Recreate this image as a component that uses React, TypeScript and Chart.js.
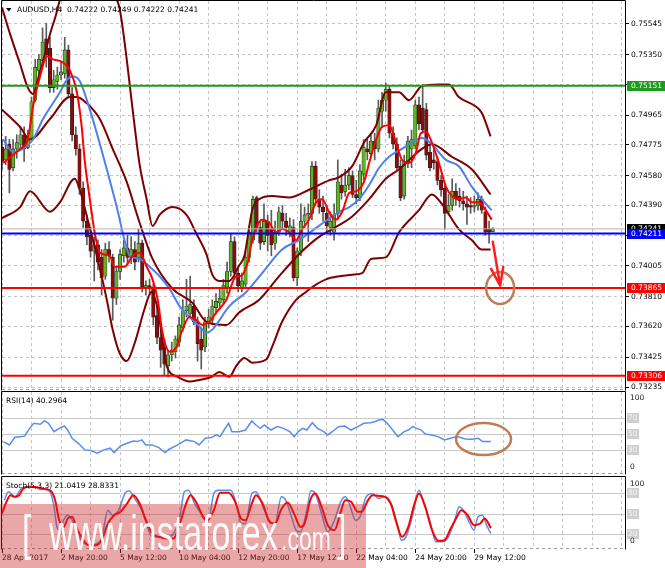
import React, { useEffect, useRef } from 'react';
import { Chart, registerables } from 'chart.js';

Chart.register(...registerables);

// ---------------- data ----------------
const headerText = 'AUDUSD,H4  0.74222 0.74249 0.74222 0.74241';
const rsiTitle = 'RSI(14) 40.2964';
const stochTitle = 'Stoch(5,3,3) 21.0419 28.8331';

const dateLabels = ['28 Apr 2017', '2 May 20:00', '5 May 12:00', '10 May 04:00', '12 May 20:00', '17 May 12:00', '22 May 04:00', '24 May 20:00', '29 May 12:00'];
const barsPerLabel = 16;

const priceTicks = [0.75545, 0.7535, 0.7516, 0.74965, 0.74775, 0.7458, 0.7439, 0.742, 0.74005, 0.7381, 0.7362, 0.73425, 0.73235];
const coveredPriceTicks = [0.7516, 0.742];

const openP = [
  0.7476, 0.7468, 0.7478, 0.7463, 0.7475, 0.7478, 0.7484, 0.7476, 0.7482, 0.7506,
  0.7525, 0.7531, 0.7545, 0.7539, 0.7514, 0.7518, 0.7522, 0.7523, 0.7538, 0.7510,
  0.7484, 0.7475, 0.7450, 0.7429, 0.7420, 0.7410, 0.7414, 0.7406, 0.7394, 0.7411,
  0.7406, 0.7380, 0.7397, 0.7407, 0.7412, 0.7406, 0.7411, 0.7406, 0.7415, 0.7387,
  0.7388, 0.7386, 0.7369, 0.7355, 0.7349, 0.7337, 0.7344, 0.7346, 0.7352, 0.7361,
  0.7372, 0.7370, 0.7375, 0.7365, 0.7354, 0.7349, 0.7365, 0.7366, 0.7374, 0.7377,
  0.7379, 0.7386, 0.7397, 0.7416, 0.7396, 0.7387, 0.7389, 0.7406, 0.7417, 0.7444,
  0.7425, 0.7416, 0.7429, 0.7424, 0.7415, 0.7422, 0.7434, 0.7429, 0.7422, 0.7425,
  0.7393, 0.7410, 0.7429, 0.7433, 0.7434, 0.7464, 0.7443, 0.7438, 0.7434, 0.7425,
  0.7422, 0.7434, 0.7452, 0.7448, 0.7452, 0.7458, 0.7446, 0.7444, 0.7459, 0.7475,
  0.7472, 0.7480, 0.7475, 0.7499, 0.7506, 0.7513, 0.7485, 0.7478, 0.7464, 0.7445,
  0.7466, 0.7475, 0.7477, 0.7503, 0.7501, 0.7500, 0.7473, 0.7468, 0.7467, 0.7455,
  0.7450, 0.7435, 0.7439, 0.7448, 0.7445, 0.7442, 0.7440, 0.7439, 0.7438, 0.7439,
  0.7443, 0.7435, 0.7424, 0.74222,
];
const highP = [
  0.7481, 0.7483, 0.7481, 0.7481, 0.7484, 0.7489, 0.7489, 0.7487, 0.7508, 0.7532,
  0.7535, 0.7552, 0.7555, 0.7546, 0.7525, 0.7527, 0.7531, 0.7546, 0.7541, 0.7514,
  0.7489, 0.7478, 0.7454, 0.7433, 0.7425, 0.7419, 0.7417, 0.7411, 0.7415, 0.7416,
  0.7408, 0.7400, 0.7411, 0.7417, 0.7420, 0.7419, 0.7416, 0.7424, 0.7417, 0.7391,
  0.7392, 0.7389, 0.7376, 0.7360, 0.7354, 0.7347, 0.7352, 0.7356, 0.7368, 0.7379,
  0.7392, 0.7394, 0.7379, 0.7368, 0.7361, 0.7368, 0.7373, 0.7379, 0.7383, 0.7386,
  0.7392, 0.7403, 0.7421, 0.7419, 0.7400, 0.7396, 0.7410, 0.7426, 0.7445, 0.7445,
  0.7429, 0.7440, 0.7433, 0.7436, 0.7429, 0.7438, 0.7439, 0.7434, 0.7431, 0.7430,
  0.7412, 0.7440, 0.7438, 0.7440, 0.7467, 0.7467, 0.7449, 0.7445, 0.7439, 0.7435,
  0.7440, 0.7468, 0.7459, 0.7462, 0.7463, 0.7461, 0.7455, 0.7465, 0.7481, 0.7481,
  0.7484, 0.7485, 0.7506, 0.7511, 0.7517, 0.7515, 0.7489, 0.7482, 0.7468, 0.7471,
  0.7483, 0.7487, 0.7506, 0.7508, 0.7516, 0.7504, 0.7478, 0.7475, 0.7470, 0.7458,
  0.7453, 0.7446, 0.7456, 0.7453, 0.7450, 0.7448, 0.7445, 0.7444, 0.7445, 0.7447,
  0.7445, 0.7438, 0.7429, 0.74249,
];
const lowP = [
  0.7462, 0.7465, 0.7447, 0.7461, 0.7469, 0.7475, 0.7467, 0.7475, 0.7481, 0.7505,
  0.7520, 0.7528, 0.7527, 0.7511, 0.7511, 0.7513, 0.7519, 0.7520, 0.7508, 0.7480,
  0.7471, 0.7446, 0.7425, 0.7414, 0.7406, 0.7391, 0.7398, 0.7382, 0.7392, 0.7403,
  0.7366, 0.7376, 0.7392, 0.7403, 0.7401, 0.7402, 0.7398, 0.7403, 0.7384, 0.7382,
  0.7382, 0.7363, 0.7351, 0.7336, 0.7331, 0.7330, 0.7340, 0.7342, 0.7349, 0.7359,
  0.7368, 0.7368, 0.7363, 0.7340, 0.7335, 0.7346, 0.7361, 0.7363, 0.7370, 0.7373,
  0.7376, 0.7383, 0.7394, 0.7392, 0.7384, 0.7384, 0.7387, 0.7403, 0.7415, 0.7422,
  0.7411, 0.7414, 0.7410, 0.7407, 0.7411, 0.7420, 0.7424, 0.7420, 0.7419, 0.7391,
  0.7388, 0.7407, 0.7425, 0.7416, 0.7430, 0.7440, 0.7434, 0.7429, 0.7422, 0.7420,
  0.7417, 0.7431, 0.7443, 0.7445, 0.7449, 0.7444, 0.7440, 0.7442, 0.7455, 0.7468,
  0.7470, 0.7468, 0.7473, 0.7489, 0.7499, 0.7482, 0.7475, 0.7462, 0.7442, 0.7443,
  0.7463, 0.7463, 0.7475, 0.7487, 0.7485, 0.7468, 0.7461, 0.7462, 0.7452, 0.7445,
  0.7424, 0.7433, 0.7436, 0.7439, 0.7438, 0.7436, 0.7427, 0.7434, 0.7435, 0.7436,
  0.7434, 0.7420, 0.7415, 0.74222,
];
const closeP = [
  0.7467, 0.7475, 0.7462, 0.7475, 0.7479, 0.7484, 0.7475, 0.7482, 0.7505, 0.7527,
  0.7532, 0.7543, 0.7535, 0.7514, 0.7519, 0.7522, 0.7524, 0.7538, 0.7510, 0.7484,
  0.7475, 0.7450, 0.7429, 0.7419, 0.7410, 0.7414, 0.7403, 0.7393, 0.7411, 0.7407,
  0.7380, 0.7397, 0.7408, 0.7412, 0.7406, 0.7411, 0.7403, 0.7415, 0.7387, 0.7388,
  0.7386, 0.7368, 0.7355, 0.7347, 0.7338, 0.7344, 0.7347, 0.7354, 0.7363, 0.7372,
  0.7375, 0.7376, 0.7365, 0.7351, 0.7347, 0.7365, 0.7368, 0.7375, 0.7378, 0.7380,
  0.7388, 0.7397, 0.7416, 0.7396, 0.7388, 0.7391, 0.7406, 0.7422, 0.7443, 0.7425,
  0.7415, 0.7429, 0.7420, 0.7414, 0.7422, 0.7435, 0.7429, 0.7425, 0.7426, 0.7393,
  0.7410, 0.7429, 0.7433, 0.7434, 0.7464, 0.7443, 0.7438, 0.7435, 0.7426, 0.7429,
  0.7433, 0.7454, 0.7447, 0.7452, 0.7458, 0.7446, 0.7444, 0.7461, 0.7476, 0.7473,
  0.7480, 0.7475, 0.7501, 0.7506, 0.7513, 0.7485, 0.7478, 0.7463, 0.7444, 0.7467,
  0.7480, 0.7481, 0.7503, 0.7491, 0.7487, 0.7471, 0.7463, 0.7466, 0.7455, 0.7449,
  0.7434, 0.7439, 0.7448, 0.7444, 0.7442, 0.7440, 0.7438, 0.7438, 0.7439, 0.7443,
  0.7436, 0.7422, 0.7422, 0.74241,
];

const levelPrices = [0.75151, 0.74211, 0.73865, 0.73306];
const levelColors = ['#1e9b1e', '#0000f5', '#ff0000', '#ff0000'];
const currentPrice = 0.74241;

// indicator lines: [bar index, value]
const redMa = [[0.3,0.7466],[4.9,0.7475],[7,0.7481],[8.4,0.7502],[10.3,0.7521],[12.2,0.7534],[13.8,0.7532],[16.5,0.7530],[18.4,0.7525],[20.3,0.7511],[21.6,0.7489],[22.4,0.7468],[23.8,0.7443],[25.1,0.7422],[26.5,0.7409],[29.2,0.7407],[30.5,0.7400],[33.2,0.7400],[35.4,0.7407],[37.3,0.7409],[39.2,0.7400],[40.8,0.7392],[42.2,0.7379],[43.5,0.7358],[45.4,0.7346],[47.3,0.7349],[48.9,0.7360],[50.8,0.7368],[52.7,0.7366],[54.3,0.7363],[56.2,0.7365],[58.1,0.7371],[60.8,0.7379],[63.5,0.7394],[64.5,0.7394],[66.5,0.7402],[67.8,0.7417],[70.5,0.7430],[72.4,0.7428],[74.3,0.7422],[75.9,0.7424],[77.8,0.7422],[79.7,0.7417],[81.4,0.7424],[83.2,0.7430],[85.1,0.7441],[86.8,0.7443],[88.6,0.7435],[90.5,0.7430],[92.2,0.7435],[94.1,0.7447],[95.9,0.7448],[98.1,0.7454],[99.5,0.7466],[101.4,0.7481],[103,0.7489],[104.9,0.7490],[106.8,0.7479],[108.4,0.7468],[110.3,0.7466],[112.2,0.7473],[113.5,0.7485],[114.9,0.7486],[116.5,0.7479],[118.4,0.7466],[120.3,0.7451],[121.9,0.7445],[123.8,0.7443],[125.7,0.7444],[127.3,0.7441],[129.2,0.7441],[131.1,0.7436],[132.7,0.7430]];
const blueMa = [[0.3,0.7481],[3,0.7473],[5.7,0.7475],[8.4,0.7481],[11.1,0.7494],[13.8,0.7504],[15.7,0.7511],[17.6,0.7519],[19.2,0.7521],[21.1,0.7518],[23,0.7506],[25.7,0.7485],[28.4,0.7462],[31.1,0.7438],[33.2,0.7417],[34.6,0.7407],[37.3,0.7405],[40,0.7400],[42.7,0.7394],[45.4,0.7386],[48.1,0.7375],[50.8,0.7368],[53.5,0.7362],[55.4,0.7358],[57,0.7360],[61.6,0.7375],[66.2,0.7384],[70.5,0.7396],[75.9,0.7411],[80.5,0.7417],[85.9,0.7426],[91.4,0.7435],[94.1,0.7438],[96.8,0.7443],[99.5,0.7452],[102.2,0.7463],[104.9,0.7470],[108.4,0.7475],[113.8,0.7482],[116.5,0.7478],[120.3,0.7468],[123.8,0.7464],[127.3,0.7451],[130,0.7443],[132.7,0.7436]];
const upperBand = [[0,0.7565],[2.2,0.7548],[4.9,0.7529],[7,0.7514],[8.4,0.7510],[9.7,0.7519],[11.6,0.7535],[13,0.7548],[14.6,0.7560],[15.7,0.7570],[19.7,0.7595],[26.5,0.7595],[30.5,0.7573],[31.9,0.7564],[33.8,0.7532],[35.4,0.7500],[37.3,0.7465],[39.2,0.7443],[40.8,0.7426],[42.7,0.7433],[46.2,0.7438],[50,0.7433],[52.7,0.7421],[55.4,0.7408],[57,0.7395],[58.9,0.7391],[61.6,0.7391],[64.3,0.7401],[65.7,0.7407],[67.8,0.7436],[69.7,0.7443],[73.2,0.7445],[77.8,0.7444],[83.2,0.7449],[88.6,0.7455],[91.4,0.7457],[94.9,0.7464],[98.1,0.7479],[101.4,0.7490],[104,0.7511],[107.6,0.7511],[110.3,0.7506],[113.8,0.7515],[118.4,0.7516],[121.1,0.7516],[123.8,0.7508],[128.4,0.7502],[130,0.7498],[132.4,0.7483]];
const middleBand = [[0,0.7500],[4.9,0.7489],[7.6,0.7481],[13,0.7494],[18.4,0.7508],[20.3,0.7508],[23,0.7504],[26.5,0.7494],[30,0.7475],[33.8,0.7454],[37.3,0.7428],[40.8,0.7405],[46.2,0.7386],[51.6,0.7377],[55.4,0.7365],[60.8,0.7363],[64.3,0.7371],[69.7,0.7379],[75.1,0.7394],[80.5,0.7408],[85.9,0.7419],[89.5,0.7424],[94.9,0.7432],[99.5,0.7443],[104,0.7456],[107.6,0.7462],[113.8,0.7475],[116.5,0.7478],[121.9,0.7470],[127.3,0.7462],[132.4,0.7446]];
const lowerBand = [[0,0.7431],[4.9,0.7438],[7.6,0.7448],[13,0.7435],[15.7,0.7441],[19.7,0.7456],[21.1,0.7449],[23,0.7432],[25.7,0.7407],[28.4,0.7379],[30,0.7360],[31.9,0.7345],[33.8,0.7340],[35.9,0.7351],[38.6,0.7373],[40.5,0.7384],[42.2,0.7373],[43.2,0.7358],[44.6,0.7337],[47.6,0.7330],[50.8,0.7327],[53.5,0.7328],[56.8,0.7330],[58.9,0.7333],[61.6,0.7330],[63.5,0.7337],[65.7,0.7342],[67.8,0.7339],[71.6,0.7341],[73.2,0.7349],[75.9,0.7365],[79.7,0.7379],[82.4,0.7384],[84,0.7387],[87.8,0.7392],[91.4,0.7394],[94.9,0.7395],[97.6,0.7396],[100,0.7405],[104,0.7406],[107.6,0.7422],[113,0.7436],[116.5,0.7446],[119.2,0.7440],[123.8,0.7424],[127.3,0.7417],[130,0.7411],[132.4,0.7411]];

const rsiPoints = [[0.4,40.3],[2.0,36.2],[3.5,45.7],[5.2,46.5],[6.1,47.3],[7.5,56.8],[8.6,63.0],[10.4,61.8],[11.5,66.3],[12.6,63.0],[14.1,52.7],[15.5,56.8],[16.9,59.7],[17.8,54.7],[19.0,44.4],[20.7,38.2],[22.4,30.0],[24.1,29.2],[25.8,25.9],[27.6,30.0],[29.3,32.1],[30.4,26.7],[32.1,34.9],[33.9,38.2],[35.6,41.1],[36.7,40.3],[37.9,42.4],[39.0,36.2],[40.7,36.2],[42.5,32.9],[44.2,26.7],[45.3,30.8],[47.6,36.2],[49.9,42.4],[52.2,40.3],[53.4,36.2],[55.1,44.4],[56.8,45.3],[58.0,48.6],[59.1,46.5],[60.2,54.7],[61.4,63.0],[62.3,52.7],[64.3,52.7],[66.0,54.7],[67.7,65.9],[68.8,60.9],[70.0,56.8],[71.1,60.9],[72.9,54.7],[74.6,58.9],[76.3,56.8],[78.0,52.7],[79.2,46.5],[80.3,52.7],[81.5,56.8],[82.6,54.7],[84.1,63.8],[85.5,56.8],[87.2,52.7],[88.3,48.6],[90.1,54.7],[91.2,58.9],[92.9,59.7],[94.6,54.7],[96.4,58.9],[98.1,63.0],[99.8,63.8],[101.0,65.1],[102.1,67.1],[103.2,67.9],[104.4,63.0],[105.5,56.8],[107.3,46.5],[109.0,52.7],[110.1,54.7],[111.3,58.9],[112.4,56.8],[113.6,54.7],[114.7,49.8],[116.4,48.6],[118.2,46.5],[119.9,42.4],[121.6,44.4],[123.3,46.5],[125.6,43.6],[127.3,43.2],[129.1,44.4],[130.2,40.3],[132.5,40.3]];
const rsiLevels = [70, 50, 30];

const stochMain = [[0.6,69.4],[1.8,81.5],[3.5,74.2],[5.2,86.3],[6.9,88.7],[9.2,88.7],[10.4,84.8],[12.1,86.3],[13.2,79.0],[14.1,59.7],[14.9,30.6],[15.7,25.8],[16.7,40.3],[17.8,47.6],[19.0,40.3],[20.1,28.2],[21.2,13.7],[22.4,6.4],[24.1,4.0],[25.3,5.5],[27.0,13.7],[28.7,54.8],[29.9,47.6],[31.6,54.8],[33.3,79.0],[34.4,82.9],[36.2,69.4],[37.9,54.8],[39.0,37.9],[40.7,16.1],[42.5,16.1],[44.8,16.1],[46.5,21.0],[48.2,45.2],[49.4,81.5],[50.5,83.9],[52.2,64.5],[53.9,50.0],[55.1,40.3],[56.2,45.2],[57.4,79.0],[58.5,83.9],[60.2,83.9],[62.0,83.9],[63.7,59.7],[64.8,35.5],[66.0,35.5],[67.7,79.0],[68.8,81.5],[71.1,54.8],[72.9,35.5],[74.0,35.5],[75.7,74.2],[76.9,69.4],[78.6,42.7],[79.7,25.8],[80.9,23.4],[82.6,54.8],[83.7,82.9],[84.9,79.0],[86.6,50.0],[88.3,23.4],[90.1,40.3],[91.8,66.9],[93.0,74.2],[94.1,64.5],[95.8,40.3],[97.0,45.2],[98.7,74.2],[100.4,79.0],[102.1,71.8],[103.8,74.2],[105.5,64.5],[107.3,30.6],[108.2,11.3],[109.5,16.1],[111.3,47.6],[113.0,83.9],[114.1,69.4],[115.9,40.3],[117.6,8.9],[119.3,8.9],[121.0,16.1],[122.7,40.3],[123.9,59.7],[125.0,54.8],[126.8,35.5],[127.9,25.8],[129.0,45.2],[130.2,47.6],[131.3,33.1],[132.5,21.0]];
const stochSignal = [[0.0,50.0],[1.2,66.9],[2.3,76.6],[3.5,74.2],[4.6,76.6],[5.8,86.3],[7.5,88.7],[9.8,87.8],[12.1,84.8],[13.2,82.9],[14.4,69.4],[15.5,40.3],[16.7,30.6],[17.8,42.7],[19.0,45.2],[20.1,30.6],[21.8,13.7],[23.5,4.0],[25.3,4.0],[27.0,11.3],[28.7,35.5],[30.4,47.6],[32.1,52.4],[33.9,64.5],[35.6,76.6],[37.3,64.5],[39.0,40.3],[40.7,21.0],[42.5,16.1],[44.8,13.7],[46.5,13.7],[48.2,35.5],[49.9,64.5],[51.1,76.6],[52.8,64.5],[54.5,45.2],[55.7,40.3],[57.4,54.8],[59.1,80.0],[61.4,80.0],[63.1,68.0],[64.8,42.7],[66.0,40.3],[67.7,64.5],[68.8,76.6],[70.6,64.5],[72.3,40.3],[74.0,35.5],[75.7,56.2],[77.4,66.0],[79.2,49.1],[80.9,30.6],[82.0,35.5],[83.7,71.8],[84.9,79.0],[86.6,59.7],[88.3,33.1],[90.1,25.8],[91.8,52.4],[93.0,69.4],[94.6,67.0],[96.4,52.4],[97.5,52.4],[99.2,69.4],[100.4,76.6],[102.1,75.6],[103.8,74.2],[105.5,62.1],[106.7,40.3],[108.4,16.1],[110.1,30.6],[111.8,64.5],[113.0,79.0],[114.7,59.7],[116.4,28.2],[118.2,10.3],[119.9,11.3],[121.6,28.2],[123.3,45.2],[124.5,54.8],[126.2,47.6],[127.9,33.1],[129.6,35.5],[130.8,42.7],[132.5,28.8]];
const stochLevels = [80, 50, 20];

// annotations, in data units (bar index, value)
const targetCircle = [135, 0.73865];
const arrowFrom = [133, 0.7416];
const arrowTo = [135, 0.7388];
const rsiCircle = [130.5, 43.5];

// ---------------- layout / style ----------------
const W = 665;
const AXIS_W = 40;
const PLOT_LEFT = 2;
const BAR_STEP = 3.69;
const X_MAX = (W - AXIS_W - PLOT_LEFT) / BAR_STEP;
const MAIN_MIN = 0.73216;
const MAIN_MAX = 0.75691;
const FF = '"DejaVu Sans", sans-serif';
const FONT = { family: FF, size: 7.5 };
const GRID = '#c4c4c4';
const gridBars = Array.from({ length: 22 }, (_, k) => k * 8);

const labelForBar = (v: number) => (v % barsPerLabel === 0 ? dateLabels[v / barsPerLabel] || '' : '');

function xScale(showLabels: boolean): any {
  return {
    type: 'linear', min: 0, max: X_MAX, offset: false,
    afterBuildTicks: (s: any) => { s.ticks = gridBars.map((v) => ({ value: v })); },
    afterFit: (s: any) => { s.height = showLabels ? 19 : 0; s.paddingLeft = 0; s.paddingRight = 0; },
    grid: {
      color: GRID, lineWidth: 1, offset: false, drawTicks: showLabels, tickLength: 4, tickWidth: 1,
      tickColor: (c: any) => (c.tick && labelForBar(c.tick.value) ? '#000' : 'rgba(0,0,0,0)'),
    },
    border: { display: false, dash: [3, 3] },
    ticks: {
      display: showLabels, autoSkip: false, maxRotation: 0, minRotation: 0, align: 'start', padding: 1,
      font: FONT, color: '#000', callback: (v: any) => labelForBar(Number(v)),
    },
  };
}

const toXY = (pts: number[][]) => pts.map(([x, y]) => ({ x, y }));
function lineDs(pts: number[][], color: string, width: number, order: number, smooth = true): any {
  return {
    type: 'line', data: toXY(pts), borderColor: color, borderWidth: width, pointRadius: 0, pointHoverRadius: 0,
    fill: false, tension: 0, cubicInterpolationMode: smooth ? 'monotone' : 'default', order,
  };
}

function drawFrame(ctx: CanvasRenderingContext2D, a: any) {
  ctx.save();
  ctx.strokeStyle = '#000';
  ctx.lineWidth = 1;
  ctx.setLineDash([]);
  ctx.beginPath();
  ctx.moveTo(a.left - 0.5, a.top - 0.5); ctx.lineTo(a.right + 0.5, a.top - 0.5);
  ctx.moveTo(a.left - 0.5, a.top - 0.5); ctx.lineTo(a.left - 0.5, a.bottom + 0.5);
  ctx.moveTo(a.right + 0.5, a.top - 0.5); ctx.lineTo(a.right + 0.5, a.bottom + 0.5);
  ctx.stroke();
  ctx.setLineDash([3, 3]);
  ctx.strokeStyle = '#9c9c9c';
  ctx.beginPath();
  ctx.moveTo(a.left, a.bottom - 0.5); ctx.lineTo(a.right, a.bottom - 0.5);
  ctx.stroke();
  ctx.restore();
}

const commonOptions = (padding: any) => ({
  responsive: false, animation: false, devicePixelRatio: 1, events: [],
  layout: { padding },
  plugins: { legend: { display: false }, tooltip: { enabled: false } },
});

const mainDeco = {
  id: 'mainDeco',
  afterDraw(chart: any) {
    const { ctx, chartArea: a, scales } = chart;
    const x = scales.x, y = scales.y;
    drawFrame(ctx, a);
    ctx.save();
    // header
    ctx.fillStyle = '#000';
    ctx.beginPath();
    ctx.moveTo(6, 8); ctx.lineTo(11.5, 8); ctx.lineTo(8.75, 11.5); ctx.closePath(); ctx.fill();
    ctx.font = `7.5px ${FF}`;
    ctx.textBaseline = 'middle';
    ctx.textAlign = 'left';
    ctx.fillText(headerText, 17, 10);
    // price tags
    const tag = (v: number, bg: string) => {
      const py = Math.round(y.getPixelForValue(v));
      ctx.fillStyle = bg;
      ctx.fillRect(a.right + 2, py - 5, W - a.right - 2, 10);
      ctx.fillStyle = '#fff';
      ctx.fillText(v.toFixed(5), a.right + 6, py);
    };
    tag(currentPrice, '#000');
    levelPrices.forEach((v, k) => tag(v, levelColors[k]));
    // target circle
    const cx = x.getPixelForValue(targetCircle[0]);
    const cy = y.getPixelForValue(targetCircle[1]);
    ctx.strokeStyle = '#bf7d56';
    ctx.lineWidth = 2.5;
    ctx.beginPath();
    ctx.ellipse(cx, cy, 14, 16, 0, 0, Math.PI * 2);
    ctx.stroke();
    // arrow
    const x0 = x.getPixelForValue(arrowFrom[0]), y0 = y.getPixelForValue(arrowFrom[1]);
    const x1 = x.getPixelForValue(arrowTo[0]), y1 = y.getPixelForValue(arrowTo[1]);
    const ang = Math.atan2(y1 - y0, x1 - x0);
    ctx.strokeStyle = '#ff1d1d';
    ctx.lineWidth = 2.5;
    ctx.lineCap = 'round';
    ctx.beginPath();
    ctx.moveTo(x0, y0); ctx.lineTo(x1, y1);
    for (const s of [-1, 1]) {
      const b = ang + Math.PI + s * 0.33;
      ctx.moveTo(x1, y1);
      ctx.lineTo(x1 + 19 * Math.cos(b), y1 + 19 * Math.sin(b));
    }
    ctx.stroke();
    ctx.restore();
  },
};

function subDeco(id: string, title: string, levels: number[], circle: number[] | null) {
  return {
    id,
    beforeDatasetsDraw(chart: any) {
      const { ctx, chartArea: a, scales } = chart;
      ctx.save();
      ctx.strokeStyle = '#c9c9c9';
      ctx.lineWidth = 1;
      ctx.beginPath();
      for (const v of levels) {
        const py = Math.round(scales.y.getPixelForValue(v)) + 0.5;
        ctx.moveTo(a.left, py); ctx.lineTo(a.right, py);
      }
      ctx.stroke();
      ctx.restore();
    },
    afterDraw(chart: any) {
      const { ctx, chartArea: a, scales } = chart;
      const y = scales.y, x = scales.x;
      drawFrame(ctx, a);
      ctx.save();
      ctx.font = `7.5px ${FF}`;
      ctx.textBaseline = 'middle';
      ctx.textAlign = 'left';
      ctx.fillStyle = '#000';
      ctx.fillText(title, a.left + 4, a.top + 9);
      for (const v of levels) {
        const py = Math.round(y.getPixelForValue(v));
        ctx.fillStyle = '#cfcfcf';
        ctx.fillRect(a.right + 2, py - 5, 12, 10);
        ctx.fillStyle = '#f6f6f6';
        ctx.fillText(String(v), a.right + 3, py);
      }
      ctx.fillStyle = '#1a1a1a';
      ctx.fillText('100', a.right + 5, y.getPixelForValue(100) + 4.5);
      ctx.fillText('0', a.right + 5, y.getPixelForValue(0) - 7);
      if (circle) {
        ctx.strokeStyle = '#bf7d56';
        ctx.lineWidth = 2.5;
        ctx.beginPath();
        ctx.ellipse(x.getPixelForValue(circle[0]), y.getPixelForValue(circle[1]), 27.5, 16, 0, 0, Math.PI * 2);
        ctx.stroke();
      }
      ctx.restore();
    },
  };
}

const BULL = '#5cb522';
const BEAR = '#8a0c0c';

function mainConfig(): any {
  const bodies = openP.map((o, i) => ({ x: i, y: [o, closeP[i]] }));
  const wicks = lowP.map((l, i) => ({ x: i, y: [l, highP[i]] }));
  const bodyColors = openP.map((o, i) => (closeP[i] >= o ? BULL : BEAR));
  return {
    type: 'line',
    data: {
      datasets: [
        ...levelPrices.map((v, k) => lineDs([[0, v], [X_MAX, v]], levelColors[k], 2, 0, false)),
        lineDs([[0, currentPrice], [X_MAX, currentPrice]], '#b4b4b4', 1, 0, false),
        lineDs(redMa, '#ff0000', 2, 1),
        lineDs(blueMa, '#4d80ee', 2, 1),
        lineDs(upperBand, '#7d0000', 2, 2),
        lineDs(middleBand, '#7d0000', 2, 2),
        lineDs(lowerBand, '#7d0000', 2, 2),
        { type: 'bar', data: bodies, backgroundColor: bodyColors, borderColor: '#1c1c1c', borderWidth: 0.6, borderSkipped: false, barThickness: 3.4, maxBarThickness: 3.4, grouped: false, minBarLength: 1, order: 3 },
        { type: 'bar', data: wicks, backgroundColor: '#5a5a5a', barThickness: 1, maxBarThickness: 1, grouped: false, borderWidth: 0, order: 4 },
      ],
    },
    options: {
      ...commonOptions({ top: 1, bottom: 5, left: PLOT_LEFT, right: 0 }),
      scales: {
        x: xScale(false),
        y: {
          type: 'linear', position: 'right', min: MAIN_MIN, max: MAIN_MAX,
          afterBuildTicks: (s: any) => { s.ticks = priceTicks.map((v) => ({ value: v })); },
          afterFit: (s: any) => { s.width = AXIS_W; s.paddingTop = 0; s.paddingBottom = 0; },
          grid: { color: GRID, lineWidth: 1, drawTicks: true, tickLength: 4, tickColor: '#000', tickWidth: 1 },
          border: { display: false, dash: [3, 3] },
          ticks: {
            autoSkip: false, font: FONT, color: '#000', padding: 2,
            callback: (v: any) => (coveredPriceTicks.includes(v) ? '' : Number(v).toFixed(5)),
          },
        },
      },
    },
    plugins: [mainDeco],
  };
}

function rsiConfig(): any {
  return {
    type: 'line',
    data: { datasets: [lineDs(rsiPoints, '#5a8ee8', 1.5, 0, false)] },
    options: {
      ...commonOptions({ top: 4, bottom: 4, left: PLOT_LEFT, right: AXIS_W }),
      scales: { x: xScale(false), y: { type: 'linear', display: false, min: 0, max: 102 } },
    },
    plugins: [subDeco('rsiDeco', rsiTitle, rsiLevels, rsiCircle)],
  };
}

function stochConfig(): any {
  return {
    type: 'line',
    data: {
      datasets: [
        lineDs(stochSignal, '#ff0000', 2, 0),
        lineDs(stochMain, '#5a8ee8', 1.5, 1),
      ],
    },
    options: {
      ...commonOptions({ top: 5, bottom: 0, left: PLOT_LEFT, right: AXIS_W }),
      scales: { x: xScale(true), y: { type: 'linear', display: false, min: -1.5, max: 103 } },
    },
    plugins: [subDeco('stochDeco', stochTitle, stochLevels, null)],
  };
}

function ChartCanvas({ top, height, build }: { top: number; height: number; build: () => any }) {
  const ref = useRef<HTMLCanvasElement>(null);
  useEffect(() => {
    const chart = new Chart(ref.current as HTMLCanvasElement, build());
    return () => chart.destroy();
  }, []);
  return <canvas ref={ref} width={W} height={height} style={{ position: 'absolute', left: 0, top, width: W, height }} />;
}

function Watermark() {
  const base: any = { position: 'absolute', whiteSpace: 'nowrap', color: 'rgba(255,255,255,0.94)', fontFamily: '"Liberation Sans", Arial, sans-serif' };
  return (
    <div style={{ position: 'absolute', left: 0, top: 504, width: 366, height: 64, background: 'rgba(205,45,45,0.42)', overflow: 'hidden' }}>
      <div style={{ position: 'absolute', left: 0, top: 0, width: 366, height: 64, transform: 'scaleY(1.45)', transformOrigin: '0px 46px' }}>
        <span style={{ ...base, left: 22, top: 17, fontSize: 34, lineHeight: '34px' }}>[</span>
        <span style={{ ...base, left: 49, top: 17, fontSize: 34, lineHeight: '34px' }}>www.instaforex</span>
        <span style={{ ...base, left: 281, top: 26.5, fontSize: 23, lineHeight: '23px' }}>.com</span>
        <span style={{ ...base, left: 337, top: 17, fontSize: 34, lineHeight: '34px' }}>]</span>
      </div>
    </div>
  );
}

export default function App() {
  return (
    <div style={{ position: 'fixed', left: 0, top: 0, width: W, height: 568, background: '#fff', overflow: 'hidden' }}>
      <ChartCanvas top={0} height={395} build={mainConfig} />
      <ChartCanvas top={388} height={90} build={rsiConfig} />
      <ChartCanvas top={472} height={96} build={stochConfig} />
      <Watermark />
    </div>
  );
}
